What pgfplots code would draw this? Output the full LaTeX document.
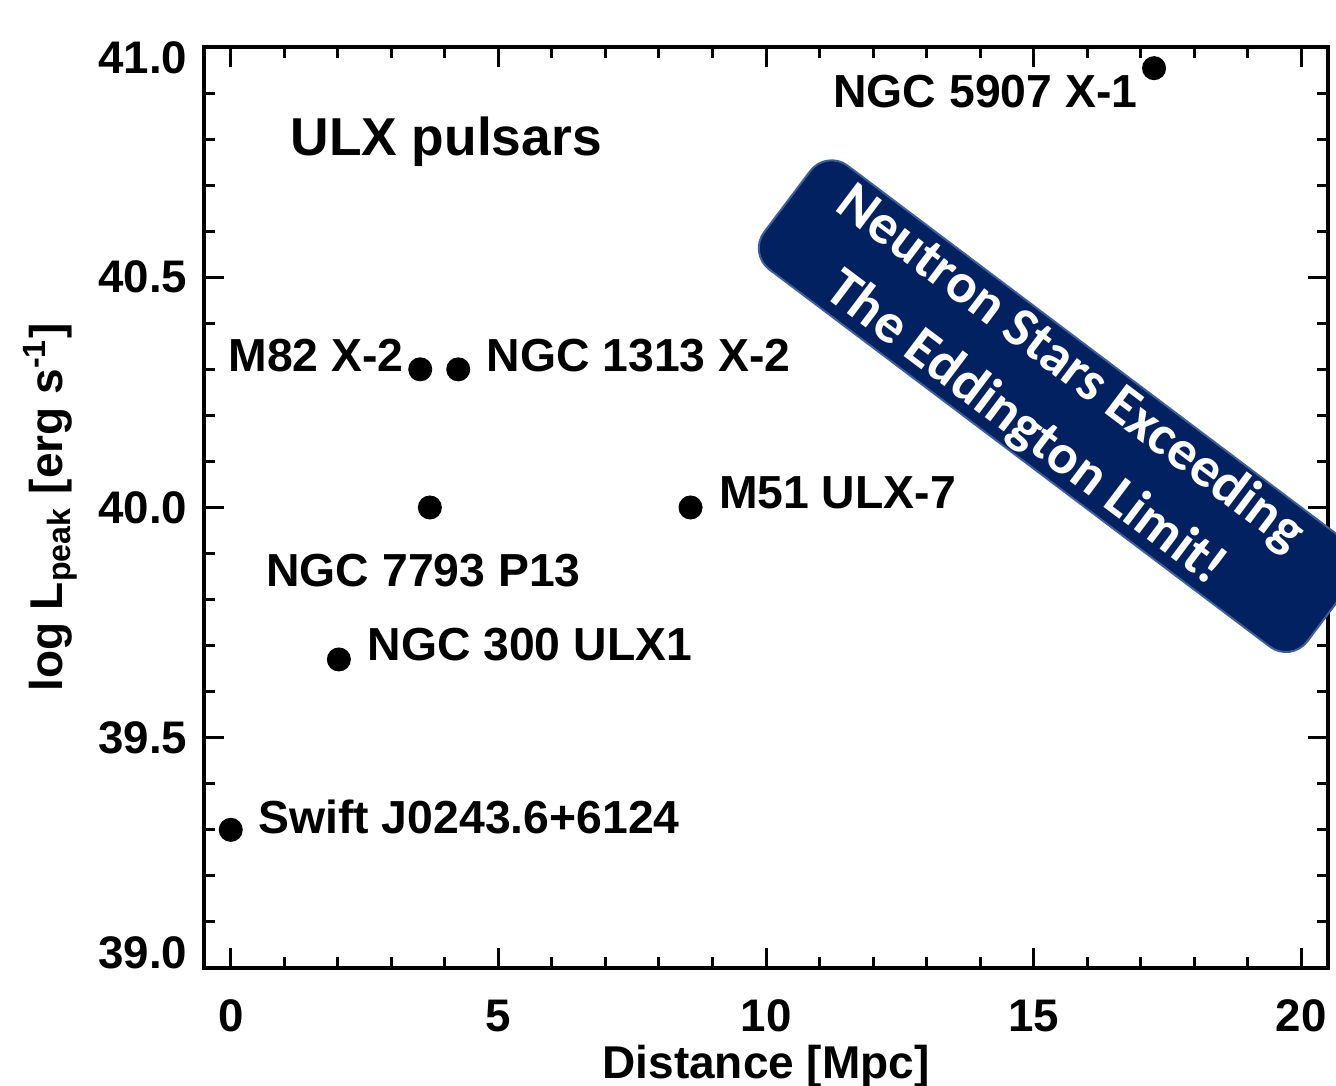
\documentclass[border=0pt]{standalone}
\usepackage{fontspec}
\setmainfont{Liberation Sans}
\newfontfamily\banfont{Carlito}
\usepackage{pgfplots}
\pgfplotsset{compat=1.18}
\definecolor{banfill}{RGB}{2,33,96}
\definecolor{banedge}{RGB}{60,95,155}
\begin{document}
\begin{tikzpicture}
\begin{axis}[
  name=ax,
  scale only axis,
  width=337.2pt, height=276.3pt,
  xmin=-0.5, xmax=20.5, ymin=39, ymax=41,
  xtick={0,5,10,15,20}, xticklabels={0,5,10,15,20},
  ytick={39,39.5,40,40.5,41},
  yticklabels={\raisebox{4.5pt}[\height][\depth]{39.0},39.5,40.0,40.5,\raisebox{-3.3pt}[\height][\depth]{41.0}},
  minor x tick num=4, minor y tick num=4,
  tick align=inside,
  major tick length=6pt, minor tick length=3.2pt,
  axis line style={line width=1.2pt},
  every tick/.style={black, line width=0.9pt},
  /pgf/number format/assume math mode=true,
  tick label style={font=\bfseries\fontsize{13.7}{16}\selectfont},
  x tick label style={inner sep=0pt, anchor=north, yshift=-9.3pt},
  y tick label style={inner sep=0pt, anchor=east, xshift=-4.8pt},
  xlabel={Distance [Mpc]},
  ylabel={log L\textsubscript{peak} [erg s\textsuperscript{-1}]},
  label style={font=\bfseries\fontsize{13.8}{16}\selectfont},
  x label style={at={(axis description cs:0.5,-0.1205)}, anchor=base},
  y label style={at={(axis description cs:-0.137,0.5)}, anchor=center},
  clip=false,
]
\addplot[only marks, mark=*, mark size=3.4pt, black] coordinates {
  (0,39.30) (2.02,39.67) (3.54,40.30) (3.72,40.00) (4.25,40.30) (8.59,40.00) (17.25,40.954)
};
\begin{scope}[every node/.style={inner sep=0pt, font=\bfseries\fontsize{13.9}{16}\selectfont}]
\node[anchor=base west] at (axis cs:1.104,40.765) {\fontsize{16}{19}\selectfont ULX pulsars};
\node[anchor=base east] at (axis cs:16.95,40.868) {NGC 5907 X-1};
\node[anchor=base east] at (axis cs:3.24,40.295) {M82 X-2};
\node[anchor=base west] at (axis cs:4.77,40.295) {NGC 1313 X-2};
\node[anchor=base west] at (axis cs:9.11,39.997) {M51 ULX-7};
\node[anchor=base west] at (axis cs:0.655,39.828) {NGC 7793 P13};
\node[anchor=base west] at (axis cs:2.544,39.667) {NGC 300 ULX1};
\node[anchor=base west] at (axis cs:0.505,39.293) {Swift J0243.6+6124};
\end{scope}
\node[rotate=-37, fill=banfill, draw=banedge, line width=0.6pt, rounded corners=8pt,
  minimum width=204pt, minimum height=39pt, inner sep=0pt]
  at (axis cs:15.47,40.220) {};
\node[rotate=-37, inner sep=0pt, text=white, align=center,
  font=\banfont\bfseries\fontsize{16.9}{22.5}\selectfont]
  at (axis cs:15.26,40.236) {Neutron Stars Exceeding\\The Eddington Limit!};
\end{axis}
\pgfresetboundingbox
\path[use as bounding box] ([shift={(-61.2pt,-35.4pt)}]ax.south west) rectangle ([shift={(2.4pt,14.1pt)}]ax.north east);
\end{tikzpicture}
\end{document}
